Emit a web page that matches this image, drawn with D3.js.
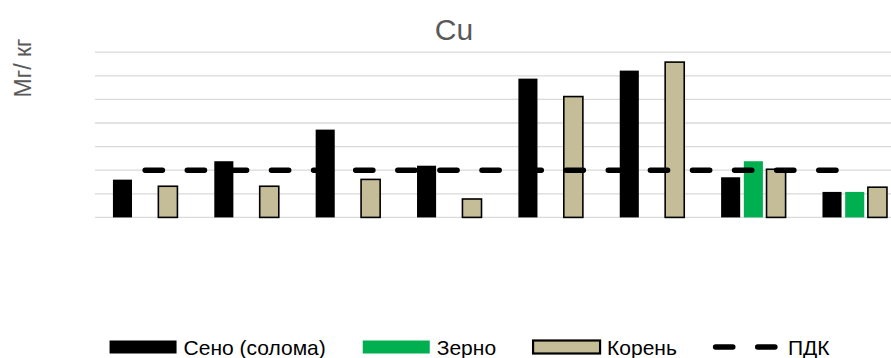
<!DOCTYPE html>
<html lang="ru">
<head>
  <meta charset="UTF-8">
  <title>Cu</title>
  <style>
    body { margin: 0; background: #fff; overflow: hidden; }
    svg { font-family: 'Liberation Sans', Arial, sans-serif; display: block; }
    .grid line { stroke: #d9d9d9; stroke-width: 1.3px; }
  </style>
</head>
<body>
  <svg width="891" height="358"></svg>

  <script src="https://d3js.org/d3.v7.min.js"></script>
  <script>
    // categories (no visible labels in the source chart)
    var categories = ["1", "2", "3", "4", "5", "6", "7", "8"];
    var seriesNames = ["Сено (солома)", "Зерно", "Корень"];
    var seriesColors = ["#000000", "#00b050", "#c4bd97"];

    var hay   = [8.0, 11.9, 18.6, 10.95, 29.4, 31.1, 8.5, 5.4];
    var grain = [0,   0,    0,    0,     0,    0,    11.9, 5.4];
    var root  = [6.6, 6.6,  8.05, 3.9,   25.6, 32.9, 10.2, 6.4];
    var pdk   = [10, 10, 10, 10, 10, 10, 10, 10];

    var yTicks = [0, 5, 10, 15, 20, 25, 30, 35];

    var svg = d3.select("svg");

    var x0 = d3.scaleBand()
      .domain(categories)
      .range([94.5, 905.4])
      .paddingInner(0.328)
      .paddingOuter(0.164);

    var x1 = d3.scaleBand()
      .domain(seriesNames)
      .range([0, x0.bandwidth()])
      .paddingInner(0.16)
      .paddingOuter(0.08);

    var y = d3.scaleLinear()
      .domain([0, 35])
      .range([217.4, 52.2]);

    // gridlines
    svg.append("g")
      .attr("class", "grid")
      .selectAll("line")
      .data(yTicks)
      .enter()
      .append("line")
      .attr("x1", 95)
      .attr("x2", 891)
      .attr("y1", function(d) { return y(d); })
      .attr("y2", function(d) { return y(d); });

    // bars
    var rows = categories.map(function(c, i) {
      return { cat: c, values: [hay[i], grain[i], root[i]] };
    });

    var groups = svg.append("g")
      .selectAll("g")
      .data(rows)
      .enter()
      .append("g")
      .attr("transform", function(d) { return "translate(" + x0(d.cat) + ",0)"; });

    groups.selectAll("rect")
      .data(function(d) {
        return d.values.map(function(v, j) { return { name: seriesNames[j], value: v, idx: j }; });
      })
      .enter()
      .filter(function(d) { return d.value > 0; })
      .append("rect")
      .attr("x", function(d) { return x1(d.name); })
      .attr("y", function(d) { return y(d.value); })
      .attr("width", x1.bandwidth())
      .attr("height", function(d) { return y(0) - y(d.value); })
      .attr("fill", function(d) { return seriesColors[d.idx]; })
      .attr("stroke", function(d) { return d.idx === 2 ? "#000" : "none"; })
      .attr("stroke-width", 1.6);

    // ПДК line
    var line = d3.line()
      .x(function(d, i) { return x0(categories[i]) + x0.bandwidth() / 2; })
      .y(function(d) { return y(d); });

    svg.append("path")
      .datum(pdk)
      .attr("d", line)
      .attr("fill", "none")
      .attr("stroke", "#000")
      .attr("stroke-width", 5.5)
      .attr("stroke-linecap", "round")
      .attr("stroke-dasharray", "17.2,24.9");

    // title
    svg.append("text")
      .attr("x", 454)
      .attr("y", 40)
      .attr("text-anchor", "middle")
      .attr("fill", "#595959")
      .style("font-size", "30px")
      .text("Cu");

    // y axis title
    svg.append("text")
      .attr("transform", "translate(31,68) rotate(-90)")
      .attr("text-anchor", "middle")
      .attr("fill", "#595959")
      .style("font-size", "23px")
      .text("Мг/ кг");

    // legend
    var legendItems = [
      { name: seriesNames[0], type: "bar", color: seriesColors[0], stroke: "none" },
      { name: seriesNames[1], type: "bar", color: seriesColors[1], stroke: "none" },
      { name: seriesNames[2], type: "bar", color: seriesColors[2], stroke: "#000" },
      { name: "ПДК", type: "line" }
    ];

    var legend = svg.append("g");
    var lx = 0, ly = 347;
    legendItems.forEach(function(item, i) {
      var g = legend.append("g");
      if (item.type === "bar") {
        g.append("rect")
          .attr("x", lx + 1)
          .attr("y", ly - 6.5)
          .attr("width", 67)
          .attr("height", 13)
          .attr("fill", item.color)
          .attr("stroke", item.stroke)
          .attr("stroke-width", 2.2);
      } else {
        g.append("line")
          .attr("x1", lx + 2.7)
          .attr("x2", lx + 66)
          .attr("y1", ly)
          .attr("y2", ly)
          .attr("stroke", "#000")
          .attr("stroke-width", 5.5)
          .attr("stroke-linecap", "round")
          .attr("stroke-dasharray", "17.2,24.9");
      }
      var t = g.append("text")
        .attr("x", lx + 75)
        .attr("y", ly + 7.5)
        .attr("fill", "#000")
        .style("font-size", "21px")
        .text(item.name);
      lx += 75 + t.node().getComputedTextLength() + 36;
    });
    var legendWidth = lx - 36;
    legend.attr("transform", "translate(" + (469 - legendWidth / 2) + ",0)");
  </script>
</body>
</html>
